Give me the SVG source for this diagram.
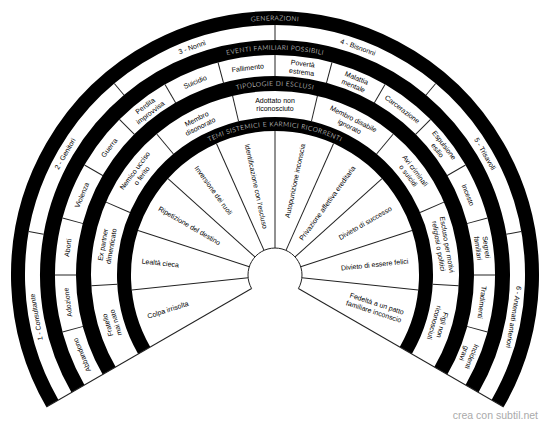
<svg xmlns="http://www.w3.org/2000/svg" width="550" height="428" viewBox="0 0 550 428">
<style>
.band{fill:none;stroke:#000;stroke-linecap:butt}
.div line{stroke:#222;stroke-width:1}
.edge{fill:none;stroke:#222;stroke-width:1}
.lbl{font-family:"Liberation Sans",Arial,sans-serif;font-size:7px;fill:#000;text-anchor:middle}
.ts{font-family:"Liberation Sans",Arial,sans-serif;font-size:7px;fill:#000}
.bl{font-family:Lato,"Open Sans",sans-serif;font-weight:300;font-size:6.5px;letter-spacing:0.5px;fill:#fff;text-anchor:middle}
.wm{font-family:"Liberation Sans",Arial,sans-serif;font-size:10.5px;fill:#aaa;text-anchor:end}
</style>
<defs>
<path id="p1" d="M54.4 402.35 A254.7 254.7 0 1 1 495.6 402.35"/>
<path id="p2" d="M80.0 387.6 A225.2 225.2 0 1 1 470.0 387.6"/>
<path id="p3" d="M111.15 369.6 A189.2 189.2 0 1 1 438.85 369.6"/>
<path id="p4" d="M146.2 349.35 A148.7 148.7 0 1 1 403.8 349.35"/>
</defs>
<rect width="550" height="428" fill="#fff"/>

<g id="bands">
<path class="band" stroke-width="14" d="M52.4 403.5 A257 257 0 1 1 497.6 403.5"/>
<path class="band" stroke-width="15" d="M78.0 388.75 A227.5 227.5 0 1 1 472.0 388.75"/>
<path class="band" stroke-width="15" d="M109.2 370.75 A191.5 191.5 0 1 1 440.8 370.75"/>
<path class="band" stroke-width="14" d="M144.2 350.5 A151 151 0 1 1 405.8 350.5"/>
<path class="edge" d="M251.6 288.5 A27 27 0 1 1 298.4 288.5"/>
</g>

<g id="connectors" class="div" transform="translate(275,275)">
<line y1="-27" y2="-264" transform="rotate(-120)"/>
<line y1="-27" y2="-264" transform="rotate(120)"/>
<line y1="-235" y2="-250" transform="rotate(-80)"/>
<line y1="-235" y2="-250" transform="rotate(-40)"/>
<line y1="-235" y2="-250"/>
<line y1="-235" y2="-250" transform="rotate(40)"/>
<line y1="-235" y2="-250" transform="rotate(80)"/>
<line y1="-198.5" y2="-220" transform="rotate(-105)"/>
<line y1="-198.5" y2="-220" transform="rotate(-90)"/>
<line y1="-198.5" y2="-220" transform="rotate(-75)"/>
<line y1="-198.5" y2="-220" transform="rotate(-60)"/>
<line y1="-198.5" y2="-220" transform="rotate(-45)"/>
<line y1="-198.5" y2="-220" transform="rotate(-30)"/>
<line y1="-198.5" y2="-220" transform="rotate(-15)"/>
<line y1="-198.5" y2="-220"/>
<line y1="-198.5" y2="-220" transform="rotate(15)"/>
<line y1="-198.5" y2="-220" transform="rotate(30)"/>
<line y1="-198.5" y2="-220" transform="rotate(45)"/>
<line y1="-198.5" y2="-220" transform="rotate(60)"/>
<line y1="-198.5" y2="-220" transform="rotate(75)"/>
<line y1="-198.5" y2="-220" transform="rotate(90)"/>
<line y1="-198.5" y2="-220" transform="rotate(105)"/>
<line y1="-158" y2="-184" transform="rotate(-93.333)"/>
<line y1="-158" y2="-184" transform="rotate(-66.667)"/>
<line y1="-158" y2="-184" transform="rotate(-40)"/>
<line y1="-158" y2="-184" transform="rotate(-13.333)"/>
<line y1="-158" y2="-184" transform="rotate(13.333)"/>
<line y1="-158" y2="-184" transform="rotate(40)"/>
<line y1="-158" y2="-184" transform="rotate(66.667)"/>
<line y1="-158" y2="-184" transform="rotate(93.333)"/>
<line y1="-27" y2="-144" transform="rotate(-96)"/>
<line y1="-27" y2="-144" transform="rotate(-72)"/>
<line y1="-27" y2="-144" transform="rotate(-48)"/>
<line y1="-27" y2="-144" transform="rotate(-24)"/>
<line y1="-27" y2="-144"/>
<line y1="-27" y2="-144" transform="rotate(24)"/>
<line y1="-27" y2="-144" transform="rotate(48)"/>
<line y1="-27" y2="-144" transform="rotate(72)"/>
<line y1="-27" y2="-144" transform="rotate(96)"/>
</g>

<g id="band-titles">
<text class="bl"><textPath href="#p1" startOffset="50%">GENERAZIONI</textPath></text>
<text class="bl"><textPath href="#p2" startOffset="50%">EVENTI FAMILIARI POSSIBILI</textPath></text>
<text class="bl"><textPath href="#p3" startOffset="50%">TIPOLOGIE DI ESCLUSI</textPath></text>
<text class="bl"><textPath href="#p4" startOffset="50%">TEMI SISTEMICI E KARMICI RICORRENTI</textPath></text>
</g>

<g id="generazioni">
<g id="gen-1" transform="translate(275,275) rotate(-100) translate(0,-242.5)"><text class="lbl" y="2.5">1 - Consultante</text></g>
<g id="gen-2" transform="translate(275,275) rotate(-60) translate(0,-242.5)"><text class="lbl" y="2.5">2 - Genitori</text></g>
<g id="gen-3" transform="translate(275,275) rotate(-20) translate(0,-242.5)"><text class="lbl" y="2.5">3 - Nonni</text></g>
<g id="gen-4" transform="translate(275,275) rotate(20) translate(0,-242.5)"><text class="lbl" y="2.5">4 - Bisnonni</text></g>
<g id="gen-5" transform="translate(275,275) rotate(60) translate(0,-242.5)"><text class="lbl" y="2.5">5 - Trisavoli</text></g>
<g id="gen-6" transform="translate(275,275) rotate(100) translate(0,-242.5)"><text class="lbl" y="2.5">6 - Antenati anteriori</text></g>
</g>

<g id="eventi">
<g id="ev-1" transform="translate(275,275) rotate(-112.5) translate(0,-209)"><text class="lbl" y="2.5">Abbandono</text></g>
<g id="ev-2" transform="translate(275,275) rotate(-97.5) translate(0,-209)"><text class="lbl" y="2.5">Adozione</text></g>
<g id="ev-3" transform="translate(275,275) rotate(-82.5) translate(0,-209)"><text class="lbl" y="2.5">Aborti</text></g>
<g id="ev-4" transform="translate(275,275) rotate(-67.5) translate(0,-209)"><text class="lbl" y="2.5">Violenza</text></g>
<g id="ev-5" transform="translate(275,275) rotate(-52.5) translate(0,-209)"><text class="lbl" y="2.5">Guerra</text></g>
<g id="ev-6" transform="translate(275,275) rotate(-37.5) translate(0,-209)"><text class="lbl"><tspan x="0" y="-1.8">Perdita</tspan><tspan x="0" y="6.7">improvvisa</tspan></text></g>
<g id="ev-7" transform="translate(275,275) rotate(-22.5) translate(0,-209)"><text class="lbl" y="2.5">Suicidio</text></g>
<g id="ev-8" transform="translate(275,275) rotate(-7.5) translate(0,-209)"><text class="lbl" y="2.5">Fallimento</text></g>
<g id="ev-9" transform="translate(275,275) rotate(7.5) translate(0,-209)"><text class="lbl"><tspan x="0" y="-1.8">Povertà</tspan><tspan x="0" y="6.7">estrema</tspan></text></g>
<g id="ev-10" transform="translate(275,275) rotate(22.5) translate(0,-209)"><text class="lbl"><tspan x="0" y="-1.8">Malattia</tspan><tspan x="0" y="6.7">mentale</tspan></text></g>
<g id="ev-11" transform="translate(275,275) rotate(37.5) translate(0,-209)"><text class="lbl" y="2.5">Carcerazione</text></g>
<g id="ev-12" transform="translate(275,275) rotate(52.5) translate(0,-209)"><text class="lbl"><tspan x="0" y="-1.8">Espulsione</tspan><tspan x="0" y="6.7">esilio</tspan></text></g>
<g id="ev-13" transform="translate(275,275) rotate(67.5) translate(0,-209)"><text class="lbl" y="2.5">Incesto</text></g>
<g id="ev-14" transform="translate(275,275) rotate(82.5) translate(0,-209)"><text class="lbl"><tspan x="0" y="-1.8">Segreti</tspan><tspan x="0" y="6.7">familiari</tspan></text></g>
<g id="ev-15" transform="translate(275,275) rotate(97.5) translate(0,-209)"><text class="lbl" y="2.5">Tradimenti</text></g>
<g id="ev-16" transform="translate(275,275) rotate(112.5) translate(0,-209)"><text class="lbl"><tspan x="0" y="-1.8">Incidenti</tspan><tspan x="0" y="6.7">gravi</tspan></text></g>
</g>

<g id="esclusi">
<g id="es-1" transform="translate(275,275) rotate(-106.667) translate(0,-170.5)"><text class="lbl"><tspan x="0" y="-1.8">Fratello</tspan><tspan x="0" y="6.7">mai nato</tspan></text></g>
<g id="es-2" transform="translate(275,275) rotate(-80) translate(0,-170.5)"><text class="lbl"><tspan x="0" y="-1.8">Ex partner</tspan><tspan x="0" y="6.7">dimenticato</tspan></text></g>
<g id="es-3" transform="translate(275,275) rotate(-53.333) translate(0,-170.5)"><text class="lbl"><tspan x="0" y="-1.8">Nemico ucciso</tspan><tspan x="0" y="6.7">o ferito</tspan></text></g>
<g id="es-4" transform="translate(275,275) rotate(-26.667) translate(0,-170.5)"><text class="lbl"><tspan x="0" y="-1.8">Membro</tspan><tspan x="0" y="6.7">disonorato</tspan></text></g>
<g id="es-5" transform="translate(275,275) translate(0,-170.5)"><text class="lbl"><tspan x="0" y="-1.8">Adottato non</tspan><tspan x="0" y="6.7">riconosciuto</tspan></text></g>
<g id="es-6" transform="translate(275,275) rotate(26.667) translate(0,-170.5)"><text class="lbl"><tspan x="0" y="-1.8">Membro disabile</tspan><tspan x="0" y="6.7">ignorato</tspan></text></g>
<g id="es-7" transform="translate(275,275) rotate(53.333) translate(0,-170.5)"><text class="lbl"><tspan x="0" y="-1.8">Avi criminali</tspan><tspan x="0" y="6.7">o suicidi</tspan></text></g>
<g id="es-8" transform="translate(275,275) rotate(80) translate(0,-170.5)"><text class="lbl"><tspan x="0" y="-1.8">Escluso per motivi</tspan><tspan x="0" y="6.7">religiosi o politici</tspan></text></g>
<g id="es-9" transform="translate(275,275) rotate(106.667) translate(0,-170.5)"><text class="lbl"><tspan x="0" y="-1.8">Figli non</tspan><tspan x="0" y="6.7">riconosciuti</tspan></text></g>
</g>

<g id="temi">
<g id="tm-1" transform="translate(275,275) rotate(-108) translate(0,-134) rotate(90)"><text class="ts" y="2.5">Colpa irrisolta</text></g>
<g id="tm-2" transform="translate(275,275) rotate(-84) translate(0,-134) rotate(90)"><text class="ts" y="2.5">Lealtà cieca</text></g>
<g id="tm-3" transform="translate(275,275) rotate(-60) translate(0,-134) rotate(90)"><text class="ts" y="2.5">Ripetizione del destino</text></g>
<g id="tm-4" transform="translate(275,275) rotate(-36) translate(0,-134) rotate(90)"><text class="ts" y="2.5">Inversione dei ruoli</text></g>
<g id="tm-5" transform="translate(275,275) rotate(-12) translate(0,-134) rotate(90)"><text class="ts" y="2.5">Identificazione con l'escluso</text></g>
<g id="tm-6" transform="translate(275,275) rotate(12) translate(0,-134) rotate(-90)"><text class="ts" text-anchor="end" y="2.5">Autopunizione inconscia</text></g>
<g id="tm-7" transform="translate(275,275) rotate(36) translate(0,-134) rotate(-90)"><text class="ts" text-anchor="end" y="2.5">Privazione affettiva ereditaria</text></g>
<g id="tm-8" transform="translate(275,275) rotate(60) translate(0,-134) rotate(-90)"><text class="ts" text-anchor="end" y="2.5">Divieto di successo</text></g>
<g id="tm-9" transform="translate(275,275) rotate(84) translate(0,-134) rotate(-90)"><text class="ts" text-anchor="end" y="2.5">Divieto di essere felici</text></g>
<g id="tm-10" transform="translate(275,275) rotate(108) translate(0,-134) rotate(-90)"><text class="ts" text-anchor="end"><tspan x="0" y="-1.8">Fedeltà a un patto</tspan><tspan x="0" y="6.7">familiare inconscio</tspan></text></g>
</g>

<text class="wm" x="538" y="419">crea con subtil.net</text>
</svg>
